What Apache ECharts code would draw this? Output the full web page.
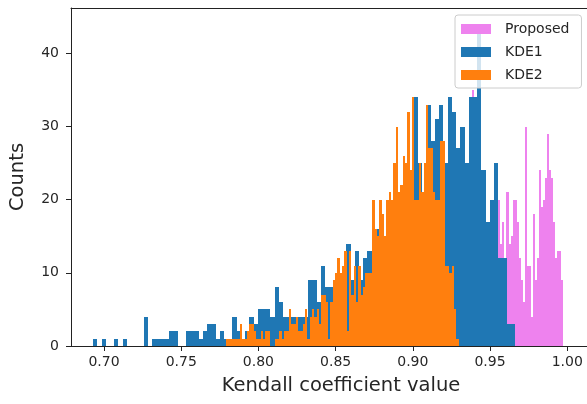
<!DOCTYPE html>
<html><head><meta charset="utf-8">
<script src="https://cdn.jsdelivr.net/npm/echarts@6/dist/echarts.min.js"></script>
<style>html,body{margin:0;padding:0;background:#fff}#c{width:587px;height:404px}</style>
</head><body><div id="c"></div>
<script>
const seriesNames = ['Proposed', 'KDE1', 'KDE2'];
const colors = ['#ee82ee', '#1f77b4', '#ff7f0e'];

// histogram bins: first edge, bin width, counts
const proposedStart = 0.92388, proposedWidth = 0.0013134;
const proposedCounts = [6,5,9,7,11,8,13,10,16,14,19,35,21,18,25,22,20,16,12,14,17,15,16,18,
  20,14,17,11,21,14,15,20,20,17,12,9,6,30,11,11,4,18,9,12,24,19,20,23,29,24,23,17,12,13,13,9];

const kde1Start = 0.69293, kde1Width = 0.0027339;
const kde1Counts = [1,0,1,0,0,1,0,1,0,0, 0,0,4,0,1,1,1,1,2,2, 0,0,2,2,2,1,2,3,3,1,
  2,1,1,4,2,1,2,4,3,5, 5,5,4,8,6,4,4,4,4,4, 4,9,9,6,11,8,8,8,9,10,
  14,9,13,9,12,13,15,16,17,15, 19,22,20,21,24,23,34,25,21,33,
  28,31,33,25,34,32,27,30,25,34, 34,44,24,17,20,25,12,12,3,3];

const kde2Start = 0.77873, kde2Width = 0.0015096;
const kde2Counts = [1,1,1,1,1,1,3,1,1,2, 3,3,2,1,1,2,1,2,2,0, 0,1,1,2,1,2,2,5,3,3,
  4,2,2,3,5,1,4,5,4,5, 3,7,7,6,1,6,9,10,12,10, 11,13,2,13,7,11,6,11,7,8,
  10,10,10,20,16,15,20,18,15,20, 21,20,25,30,21,22,26,25,32,24,
  34,20,20,25,21,25,33,27,27,21, 20,20,28,28,11,11,10,11,5,1];

const xTicks = [0.70, 0.75, 0.80, 0.85, 0.90, 0.95, 1.00];
const yTicks = [0, 10, 20, 30, 40];

function bins(start, width, counts) {
  return counts.map((c, i) => [start + i * width, start + (i + 1) * width, c]);
}
const allBins = [bins(proposedStart, proposedWidth, proposedCounts),
                 bins(kde1Start, kde1Width, kde1Counts),
                 bins(kde2Start, kde2Width, kde2Counts)];

function renderBar(params, api) {
  const p0 = api.coord([api.value(0), api.value(2)]);
  const p1 = api.coord([api.value(1), 0]);
  const x0 = Math.round(p0[0]), x1 = Math.round(p1[0]);
  const y0 = Math.round(p0[1]), y1 = Math.round(p1[1]);
  return {
    type: 'rect',
    shape: { x: x0, y: y0, width: x1 - x0, height: y1 - y0 },
    style: { fill: api.visual('color') }
  };
}

const FONT = 'DejaVu Sans';
const TXT = '#262626';
const chart = echarts.init(document.getElementById('c'), null, { renderer: 'canvas' });
chart.setOption({
  animation: false,
  textStyle: { fontFamily: FONT },
  grid: { left: 70, top: 8, right: -3, bottom: 58 },
  legend: {
    orient: 'vertical', left: 455, top: 15,
    data: seriesNames,
    icon: 'rect', itemWidth: 30, itemHeight: 10, itemGap: 9,
    padding: [7, 12, 6, 6],
    backgroundColor: 'rgba(255,255,255,0.8)',
    borderColor: '#cccccc', borderWidth: 1, borderRadius: 3,
    textStyle: { fontFamily: FONT, fontSize: 14, color: TXT, padding: [0, 0, 0, 9] }
  },
  xAxis: [{
    type: 'value', min: 0.6786, max: 1.0128,
    name: 'Kendall coefficient value', nameLocation: 'middle', nameGap: 30,
    nameTextStyle: { fontFamily: FONT, fontSize: 19.5, color: TXT, padding: [0, 0, 0, 24] },
    axisLine: { show: true, lineStyle: { color: '#222', width: 1 } },
    axisTick: { show: true, length: 5, customValues: xTicks, lineStyle: { color: '#222' } },
    axisLabel: { customValues: xTicks, formatter: v => v.toFixed(2), fontSize: 14, color: TXT, margin: 9 },
    splitLine: { show: false }
  }, {
    type: 'value', position: 'top', min: 0.6786, max: 1.0128,
    axisLine: { show: true, lineStyle: { color: '#222', width: 1 } },
    axisTick: { show: false }, axisLabel: { show: false }, splitLine: { show: false }
  }],
  yAxis: {
    type: 'value', min: 0, max: 46.2,
    name: 'Counts', nameLocation: 'middle', nameGap: 43, nameRotate: 90,
    nameTextStyle: { fontFamily: FONT, fontSize: 19.5, color: TXT },
    axisLine: { show: true, lineStyle: { color: '#222', width: 1 } },
    axisTick: { show: true, length: 5, customValues: yTicks, lineStyle: { color: '#222' } },
    axisLabel: { customValues: yTicks, fontSize: 14, color: TXT, margin: 12 },
    splitLine: { show: false }
  },
  series: seriesNames.map((name, i) => ({
    name: name, type: 'custom', xAxisIndex: 0,
    renderItem: renderBar,
    itemStyle: { color: colors[i] },
    encode: { x: [0, 1], y: 2 },
    clip: true,
    data: allBins[i]
  }))
});
</script></body></html>
